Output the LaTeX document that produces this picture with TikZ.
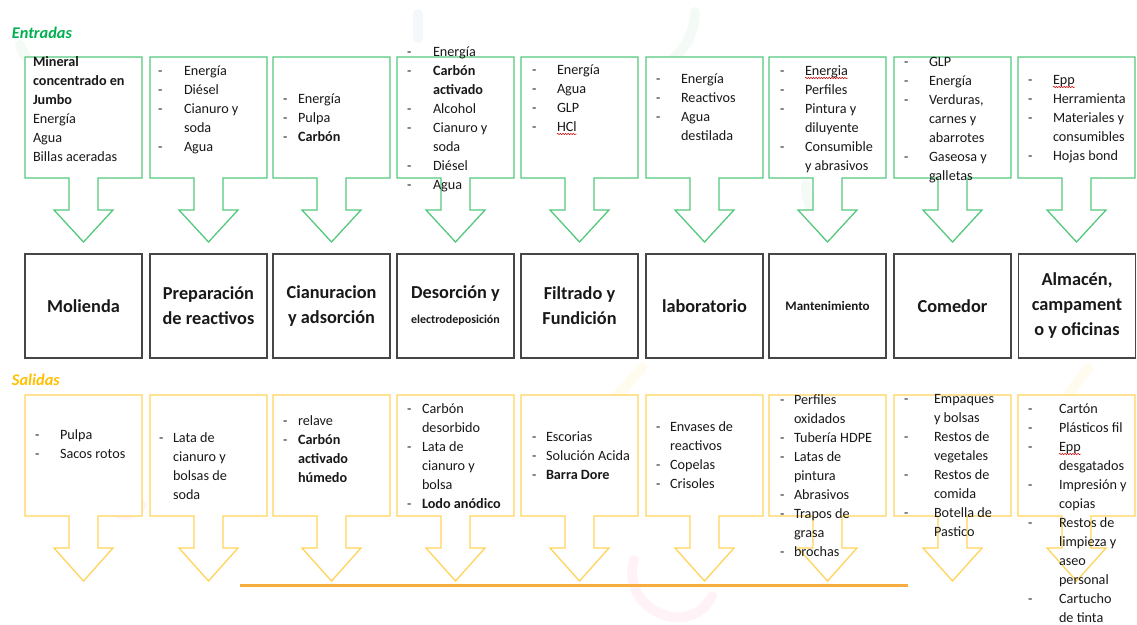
\documentclass[tikz,border=0pt]{standalone}
\usepackage{fontspec}
\setmainfont{Carlito}
\usetikzlibrary{decorations.pathmorphing}
\definecolor{ingreen}{RGB}{0,176,80}
\definecolor{outyellow}{RGB}{255,192,0}
\definecolor{callgreen}{RGB}{85,200,125}
\definecolor{callyellow}{RGB}{255,212,90}
\definecolor{lineorange}{RGB}{247,172,62}
\definecolor{textgray}{RGB}{25,25,25}
\definecolor{boxgray}{RGB}{70,70,70}
\definecolor{faintgreen}{RGB}{244,251,246}
\definecolor{faintpink}{RGB}{255,243,248}
\definecolor{faintyellow}{RGB}{255,251,238}
\definecolor{faintblue}{RGB}{244,247,252}
\newcommand{\mycallout}[6]{%
  \draw[#6] (#1,#2) -- ({#1+117},#2) -- ({#1+117},#3) -- ({#1+73},#3) -- ({#1+73},#4)
    -- ({#1+88},#4) -- ({#1+58.5},#5) -- ({#1+29},#4) -- ({#1+44},#4) -- ({#1+44},#3)
    -- (#1,#3) -- cycle;}
\newcommand{\litem}[4]{\node[txt] at (#1,#3) {-}; \node[txt] at (#2,#3) {#4};}
\newcommand{\lcont}[3]{\node[txt] at (#1,#2) {#3};}
\begin{document}
\begin{tikzpicture}[x=1pt,y=-1pt,
  every node/.style={inner sep=0pt, outer sep=0pt},
  txt/.style={font=\fontsize{14.2}{19}\selectfont, text=textgray, anchor=base west},
  incall/.style={draw=callgreen, line width=1.3pt, fill=white, line join=miter},
  outcall/.style={draw=callyellow, line width=1.3pt, fill=white, line join=miter},
  procbox/.style={draw=boxgray, line width=1.4pt, minimum width=117pt, minimum height=104pt,
    align=center, font=\bfseries\fontsize{18.3}{25}\selectfont, text=textgray},
  wavy/.style={draw=red!80!black, line width=0.5pt, decorate,
    decoration={snake, amplitude=0.7pt, segment length=2.6pt}},
  faint/.style={line width=10pt, line cap=round}]
\useasboundingbox (0,0) rectangle (1137,624);
\fill[white] (0,0) rectangle (1137,624);
% faint background decorations
\draw[faint, faintgreen] (20,45) arc[start angle=200, end angle=290, x radius=70, y radius=-70];
\draw[faint, faintblue] (418,14) -- (418,38);
\draw[faint, faintgreen] (695,12) arc[start angle=0, end angle=-60, x radius=60, y radius=-60];
\draw[faint, faintgreen] (806,185) arc[start angle=180, end angle=235, x radius=60, y radius=-60];
\draw[faint, faintyellow] (642,368) -- (615,398);
\draw[faint, faintyellow] (1088,368) -- (1068,395);
\draw[faint, faintpink] (634,560) .. controls (620,610) and (690,640) .. (712,596);
\draw[faint, faintpink] (105,505) .. controls (120,520) and (135,515) .. (142,505);

% labels
\node[anchor=west, font=\bfseries\itshape\fontsize{16.3}{18}\selectfont, text=ingreen] (entr) at (12,33) {Entradas};
\node[anchor=west, font=\bfseries\itshape\fontsize{16.3}{18}\selectfont, text=outyellow] (sal) at (12,380) {Salidas};

% input callouts
\foreach \L in {25,150,273,397,521,646,769,894,1018} {
  \mycallout{\L}{57}{178}{210}{242}{incall}
}
% output callouts
\foreach \L in {25,150,273,397,521,646,769,894,1018} {
  \mycallout{\L}{395}{516}{548}{581}{outcall}
}

% orange line
\coordinate (oa) at (240,585);
\coordinate (ob) at (908,585);
\draw[lineorange, line width=3pt] (oa) -- (ob);

% process boxes
\node[procbox] (p1) at (83.5,306) {Molienda};
\node[procbox] (p2) at (208.5,306) {Preparación\\de reactivos};
\node[procbox] (p3) at (331.5,306) {Cianuracion\\y adsorción};
\node[procbox] (p4) at (455.5,306) {Desorción y\\{\fontsize{12}{16}\selectfont electrodeposición}};
\node[procbox] (p5) at (579.5,306) {Filtrado y\\Fundición};
\node[procbox] (p6) at (704.5,306) {laboratorio};
\node[procbox, font=\bfseries\fontsize{13}{16}\selectfont] (p7) at (827.5,306) {Mantenimiento};
\node[procbox] (p8) at (952.5,306) {Comedor};
\node[procbox] (p9) at (1077,306) {Almacén,\\campament\\o y oficinas};

% ---- inputs text ----
\lcont{33}{66}{\textbf{Mineral}}
\lcont{33}{85}{\textbf{concentrado en}}
\lcont{33}{104}{\textbf{Jumbo}}
\lcont{33}{123}{Energía}
\lcont{33}{142}{Agua}
\lcont{33}{161}{Billas aceradas}

\litem{158}{184}{75}{Energía}
\litem{158}{184}{94}{Diésel}
\litem{158}{184}{113}{Cianuro y}
\lcont{184}{132}{soda}
\litem{158}{184}{151}{Agua}

\litem{283}{298}{103}{Energía}
\litem{283}{298}{122}{Pulpa}
\litem{283}{298}{141}{\textbf{Carbón}}

\litem{407}{433}{56}{Energía}
\litem{407}{433}{75}{\textbf{Carbón}}
\lcont{433}{94}{\textbf{activado}}
\litem{407}{433}{113}{Alcohol}
\litem{407}{433}{132}{Cianuro y}
\lcont{433}{151}{soda}
\litem{407}{433}{170}{Diésel}
\litem{407}{433}{189}{Agua}

\litem{532}{557}{74}{Energía}
\litem{532}{557}{93}{Agua}
\litem{532}{557}{112}{GLP}
\node[txt] at (532,131) {-};
\node[txt] (w1) at (557,131) {HCl};
\draw[wavy] ([yshift=-3pt]w1.base west) -- ([yshift=-3pt]w1.base east);

\litem{656}{681}{83}{Energía}
\litem{656}{681}{102}{Reactivos}
\litem{656}{681}{121}{Agua}
\lcont{681}{140}{destilada}

\node[txt] at (780,75) {-};
\node[txt] (w2) at (805,75) {Energia};
\draw[wavy] ([yshift=-3pt]w2.base west) -- ([yshift=-3pt]w2.base east);
\litem{780}{805}{94}{Perfiles}
\litem{780}{805}{113}{Pintura y}
\lcont{805}{132}{diluyente}
\litem{780}{805}{151}{Consumible}
\lcont{805}{170}{y abrasivos}

\litem{904}{929}{66}{GLP}
\litem{904}{929}{85}{Energía}
\litem{904}{929}{104}{Verduras,}
\lcont{929}{123}{carnes y}
\lcont{929}{142}{abarrotes}
\litem{904}{929}{161}{Gaseosa y}
\lcont{929}{180}{galletas}

\node[txt] at (1028,84) {-};
\node[txt] (w3) at (1053,84) {Epp};
\draw[wavy] ([yshift=-3pt]w3.base west) -- ([yshift=-3pt]w3.base east);
\litem{1028}{1053}{103}{Herramienta}
\litem{1028}{1053}{122}{Materiales y}
\lcont{1053}{141}{consumibles}
\litem{1028}{1053}{160}{Hojas bond}

% ---- outputs text ----
\litem{35}{60}{439}{Pulpa}
\litem{35}{60}{458}{Sacos rotos}

\litem{159}{173}{442}{Lata de}
\lcont{173}{461}{cianuro y}
\lcont{173}{480}{bolsas de}
\lcont{173}{499}{soda}

\litem{283}{298}{425}{relave}
\litem{283}{298}{444}{\textbf{Carbón}}
\lcont{298}{463}{\textbf{activado}}
\lcont{298}{482}{\textbf{húmedo}}

\litem{407}{422}{413}{Carbón}
\lcont{422}{432}{desorbido}
\litem{407}{422}{451}{Lata de}
\lcont{422}{470}{cianuro y}
\lcont{422}{489}{bolsa}
\litem{407}{422}{508}{\textbf{Lodo anódico}}

\litem{532}{546}{441}{Escorias}
\litem{532}{546}{460}{Solución Acida}
\litem{532}{546}{479}{\textbf{Barra Dore}}

\litem{656}{670}{431}{Envases de}
\lcont{670}{450}{reactivos}
\litem{656}{670}{469}{Copelas}
\litem{656}{670}{488}{Crisoles}

\litem{780}{794}{404}{Perfiles}
\lcont{794}{423}{oxidados}
\litem{780}{794}{442}{Tubería HDPE}
\litem{780}{794}{461}{Latas de}
\lcont{794}{480}{pintura}
\litem{780}{794}{499}{Abrasivos}
\litem{780}{794}{518}{Trapos de}
\lcont{794}{537}{grasa}
\litem{780}{794}{556}{brochas}

\litem{904}{934}{403}{Empaques}
\lcont{934}{422}{y bolsas}
\litem{904}{934}{441}{Restos de}
\lcont{934}{460}{vegetales}
\litem{904}{934}{479}{Restos de}
\lcont{934}{498}{comida}
\litem{904}{934}{517}{Botella de}
\lcont{934}{536}{Pastico}

\litem{1028}{1059}{413}{Cartón}
\litem{1028}{1059}{432}{Plásticos fil}
\node[txt] at (1028,451) {-};
\node[txt] (w4) at (1059,451) {Epp};
\draw[wavy] ([yshift=-3pt]w4.base west) -- ([yshift=-3pt]w4.base east);
\lcont{1059}{470}{desgatados}
\litem{1028}{1059}{489}{Impresión y}
\lcont{1059}{508}{copias}
\litem{1028}{1059}{527}{Restos de}
\lcont{1059}{546}{limpieza y}
\lcont{1059}{565}{aseo}
\lcont{1059}{584}{personal}
\litem{1028}{1059}{603}{Cartucho}
\lcont{1059}{622}{de tinta}
\end{tikzpicture}
\end{document}
